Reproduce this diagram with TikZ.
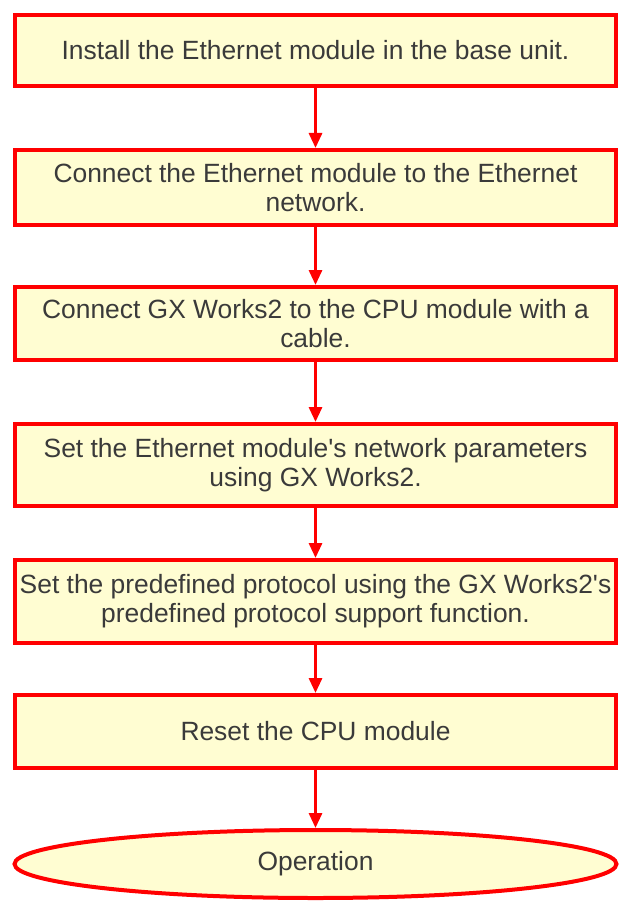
\documentclass[tikz,border=0pt]{standalone}
\usepackage{fontspec}
\setmainfont{Liberation Sans}
\usetikzlibrary{shapes.geometric,arrows.meta}
\definecolor{boxfill}{RGB}{255,253,210}
\definecolor{boxred}{RGB}{255,0,0}
\definecolor{txt}{RGB}{58,58,58}
\begin{document}
\begin{tikzpicture}[x=1pt,y=1pt,
  stepbox/.style={draw=boxred, fill=boxfill, line width=4pt, rectangle,
    minimum width=601pt, inner sep=0pt, align=center, text=txt,
    font=\fontsize{26.4}{29}\selectfont},
  endbox/.style={stepbox, ellipse, minimum width=602pt, minimum height=68pt},
  flow/.style={draw=boxred, line width=3pt, -{Triangle[width=13pt,length=15pt]}}]
\useasboundingbox[fill=white] (0,0) rectangle (619,-904);
\node[stepbox, minimum height=71pt] (b1) at (315.5,-50.5) {Install the Ethernet module in the base unit.};
\node[stepbox, minimum height=75pt] (b2) at (315.5,-187.5) {Connect the Ethernet module to the Ethernet\\network.};
\node[stepbox, minimum height=73pt] (b3) at (315.5,-323.5) {Connect GX Works2 to the CPU module with a\\cable.};
\node[stepbox, minimum height=82pt] (b4) at (315.5,-465) {Set the Ethernet module\textquotesingle s network parameters\\using GX Works2.};
\node[stepbox, minimum height=83pt] (b5) at (315.5,-601.5) {Set the predefined protocol using the GX Works2\textquotesingle s\\predefined protocol support function.};
\node[stepbox, minimum height=73pt] (b6) at (315.5,-731.5) {Reset the CPU module};
\node[endbox] (op) at (315.5,-864) {Operation};
\draw[flow] (b1.south) -- (b2.north);
\draw[flow] (b2.south) -- (b3.north);
\draw[flow] (b3.south) -- (b4.north);
\draw[flow] (b4.south) -- (b5.north);
\draw[flow] (b5.south) -- (b6.north);
\draw[flow] (b6.south) -- (op.north);
\end{tikzpicture}
\end{document}
